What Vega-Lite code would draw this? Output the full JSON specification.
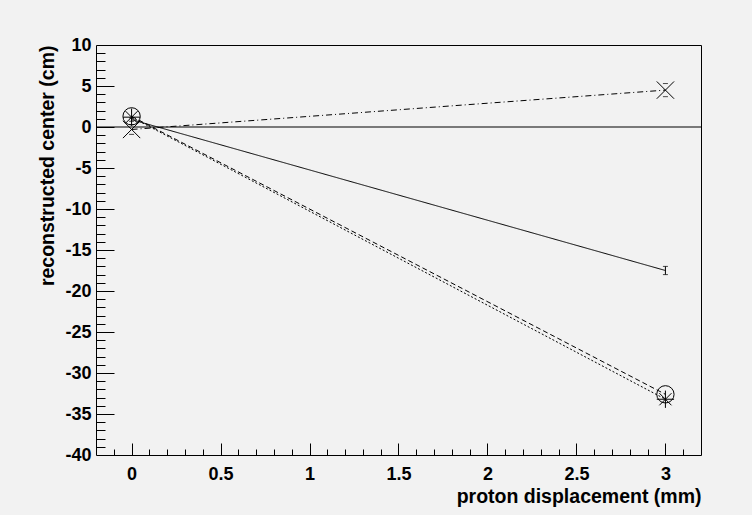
{
  "$schema": "https://vega.github.io/schema/vega-lite/v6.json",
  "width": 605,
  "height": 410,
  "autosize": {"type": "none"},
  "padding": {"left": 96, "top": 45, "right": 51, "bottom": 60},
  "background": "#f2f2f2",
  "config": {
    "view": {"stroke": "#000000", "strokeWidth": 1, "fill": "#f2f2f2"},
    "axis": {
      "labelFont": "Liberation Sans", "titleFont": "Liberation Sans",
      "labelFontWeight": "bold", "titleFontWeight": "bold",
      "labelFontSize": 18, "titleFontSize": 19.5,
      "labelColor": "#000000", "titleColor": "#000000",
      "tickColor": "#000000", "domainColor": "#000000", "grid": false
    }
  },
  "datasets": {
    "pts": [
      {"s": "solid", "x": 0, "y": 0.9, "lo": 0.7, "hi": 1.1},
      {"s": "solid", "x": 3, "y": -17.5, "lo": -18.0, "hi": -17.0},
      {"s": "dashdot", "x": 0, "y": -0.3, "lo": -0.9, "hi": 0.3},
      {"s": "dashdot", "x": 3, "y": 4.5, "lo": 3.7, "hi": 5.3},
      {"s": "dashed", "x": 0, "y": 1.3, "lo": 1.3, "hi": 1.3},
      {"s": "dashed", "x": 3, "y": -32.6, "lo": -32.6, "hi": -32.6},
      {"s": "dotted", "x": 0, "y": 1.2, "lo": 1.2, "hi": 1.2},
      {"s": "dotted", "x": 3, "y": -33.2, "lo": -33.2, "hi": -33.2}
    ],
    "ref": [{"y": 0}]
  },
  "resolve": {"axis": {"x": "independent", "y": "independent"}},
  "layer": [
    {
      "data": {"name": "ref"},
      "mark": {"type": "rule", "color": "#000000", "strokeWidth": 1},
      "encoding": {
        "y": {
          "field": "y", "type": "quantitative",
          "scale": {"domain": [-40, 10], "nice": false, "zero": false},
          "axis": {
            "orient": "left", "ticks": false, "domain": false,
            "values": [-40, -35, -30, -25, -20, -15, -10, -5, 0, 5, 10],
            "labelExpr": "'' + datum.value", "labelPadding": 5,
            "labelAlign": "right", "labelBaseline": "middle",
            "title": "reconstructed center (cm)",
            "titleAngle": -90, "titleAlign": "right", "titleBaseline": "alphabetic",
            "titleX": -43, "titleY": 0
          }
        }
      }
    },
    {
      "data": {"name": "pts"},
      "mark": {"type": "line", "color": "#000000", "strokeWidth": 1},
      "encoding": {
        "x": {
          "field": "x", "type": "quantitative",
          "scale": {"domain": [-0.2, 3.2], "nice": false, "zero": false},
          "axis": {
            "orient": "bottom", "ticks": false, "domain": false,
            "values": [0, 0.5, 1, 1.5, 2, 2.5, 3],
            "labelExpr": "'' + datum.value", "labelPadding": 10,
            "labelBaseline": "top",
            "title": "proton displacement (mm)",
            "titleAlign": "right", "titleBaseline": "alphabetic",
            "titleX": 605, "titleY": 47
          }
        },
        "y": {
          "field": "y", "type": "quantitative",
          "scale": {"domain": [-40, 10], "nice": false, "zero": false},
          "axis": {
            "orient": "left", "offset": -18, "tickSize": 18, "labels": false, "domain": false, "title": null,
            "values": [-35, -30, -25, -20, -15, -10, -5, 0, 5]
          }
        },
        "detail": {"field": "s", "type": "nominal"},
        "strokeDash": {
          "field": "s", "type": "nominal",
          "scale": {"domain": ["solid", "dashdot", "dashed", "dotted"], "range": [[1, 0], [6, 3, 1, 3], [5, 3], [2, 2]]},
          "legend": null
        }
      }
    },
    {
      "data": {"name": "pts"},
      "transform": [{"filter": "datum.s == 'solid'"}],
      "mark": {"type": "rule", "color": "#000000", "strokeWidth": 1},
      "encoding": {
        "x": {
          "field": "x", "type": "quantitative",
          "scale": {"domain": [-0.2, 3.2], "nice": false, "zero": false},
          "axis": {
            "orient": "bottom", "offset": -12, "tickSize": 12, "labels": false, "domain": false, "title": null,
            "values": [0, 0.5, 1, 1.5, 2, 2.5, 3]
          }
        },
        "y": {
          "field": "lo", "type": "quantitative",
          "scale": {"domain": [-40, 10], "nice": false, "zero": false},
          "axis": {
            "orient": "left", "offset": -9, "tickSize": 9, "labels": false, "domain": false, "title": null,
            "values": [-39, -38, -37, -36, -35, -34, -33, -32, -31, -30, -29, -28, -27, -26, -25, -24, -23, -22, -21, -20, -19, -18, -17, -16, -15, -14, -13, -12, -11, -10, -9, -8, -7, -6, -5, -4, -3, -2, -1, 0, 1, 2, 3, 4, 5, 6, 7, 8, 9]
          }
        },
        "y2": {"field": "hi"}
      }
    },
    {
      "data": {"name": "pts"},
      "transform": [{"filter": "datum.s == 'solid' || datum.s == 'dashdot'"}],
      "mark": {"type": "tick", "orient": "horizontal", "color": "#000000", "size": 5, "thickness": 1},
      "encoding": {
        "x": {
          "field": "x", "type": "quantitative",
          "scale": {"domain": [-0.2, 3.2], "nice": false, "zero": false},
          "axis": {
            "orient": "bottom", "offset": -6, "tickSize": 6, "labels": false, "domain": false, "title": null,
            "values": [-0.1, 0.1, 0.2, 0.3, 0.4, 0.6, 0.7, 0.8, 0.9, 1.1, 1.2, 1.3, 1.4, 1.6, 1.7, 1.8, 1.9, 2.1, 2.2, 2.3, 2.4, 2.6, 2.7, 2.8, 2.9, 3.1]
          }
        },
        "y": {
          "field": "lo", "type": "quantitative",
          "scale": {"domain": [-40, 10], "nice": false, "zero": false},
          "axis": null
        }
      }
    },
    {
      "data": {"name": "pts"},
      "transform": [{"filter": "datum.s == 'solid' || datum.s == 'dashdot'"}],
      "mark": {"type": "tick", "orient": "horizontal", "color": "#000000", "size": 5, "thickness": 1},
      "encoding": {
        "x": {
          "field": "x", "type": "quantitative",
          "scale": {"domain": [-0.2, 3.2], "nice": false, "zero": false},
          "axis": null
        },
        "y": {
          "field": "hi", "type": "quantitative",
          "scale": {"domain": [-40, 10], "nice": false, "zero": false},
          "axis": null
        }
      }
    },
    {
      "data": {"name": "pts"},
      "transform": [{"filter": "datum.s != 'solid'"}],
      "mark": {"type": "point", "filled": false, "stroke": "#000000", "strokeWidth": 1, "opacity": 1, "size": 300},
      "encoding": {
        "x": {
          "field": "x", "type": "quantitative",
          "scale": {"domain": [-0.2, 3.2], "nice": false, "zero": false},
          "axis": null
        },
        "y": {
          "field": "y", "type": "quantitative",
          "scale": {"domain": [-40, 10], "nice": false, "zero": false},
          "axis": null
        },
        "shape": {
          "field": "s", "type": "nominal",
          "scale": {
            "domain": ["dashdot", "dashed", "dotted"],
            "range": ["M-1,-1L1,1M-1,1L1,-1", "circle", "M-1,0L1,0M0,-1L0,1M-0.7,-0.7L0.7,0.7M-0.7,0.7L0.7,-0.7"]
          },
          "legend": null
        }
      }
    }
  ]
}
